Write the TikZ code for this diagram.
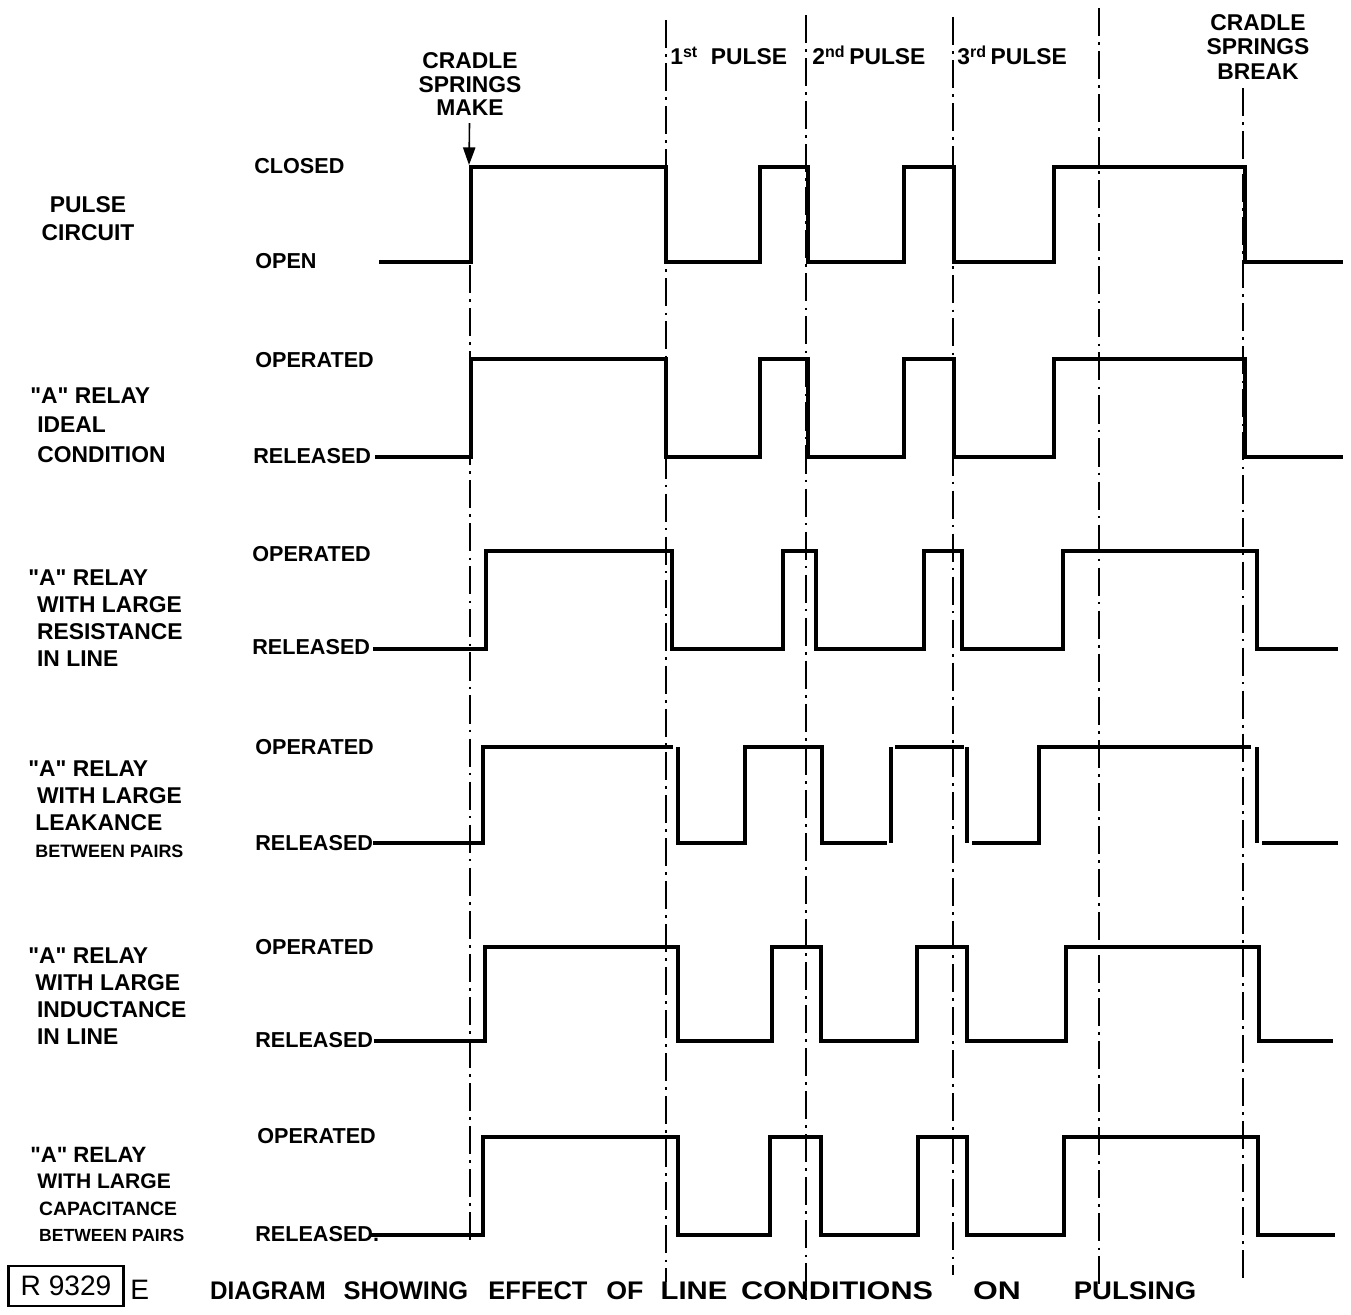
\documentclass[tikz,border=0pt]{standalone}
\usepackage{fontspec}
\setmainfont{Liberation Sans}[Ligatures=TeXOff]
\usetikzlibrary{arrows.meta}

\tikzset{
    % Text styles
    grouplabel/.style={
        anchor=north west,
        align=left,
        inner sep=0pt,
        font=\bfseries\fontsize{13}{15.5}\selectfont
    },
    levellabel/.style={
        anchor=west,
        inner sep=0pt,
        font=\bfseries\fontsize{12.3}{14}\selectfont
    },
    eventlabel/.style={
        anchor=north,
        align=center,
        inner sep=0pt,
        font=\bfseries\fontsize{13}{13.5}\selectfont
    },
    pulselabel/.style={
        anchor=base west,
        inner sep=0pt,
        font=\bfseries\fontsize{13}{15}\selectfont
    },
    captext/.style={
        inner sep=0pt,
        font=\bfseries\fontsize{14.5}{16}\selectfont
    },
    % Line styles
    wave/.style={
        line width=2.4pt,
        line join=miter
    },
    timeline/.style={
        line width=1pt,
        dash pattern=on 16pt off 3.5pt on 1.5pt off 3.5pt
    },
    arrow/.style={
        -{Triangle[length=10pt,width=7pt]},
        line width=0.9pt
    }
}

\begin{document}
\begin{tikzpicture}[x=0.02cm, y=-0.02cm]
    \useasboundingbox (0,0) rectangle (1351,1314);

    % Time marks
    \draw[timeline] (470,265) -- (470,1240);
    \draw[timeline] (666,20) -- (666,1282);
    \draw[timeline] (806,15) -- (806,1300);
    \draw[timeline] (953,17) -- (953,1275);
    \draw[timeline] (1099,8) -- (1099,1290);
    \draw[timeline] (1243,88) -- (1243,1282);

    % Events on top
    \node[eventlabel] (make) at (470,52) {CRADLE\\SPRINGS\\MAKE};
    \node[eventlabel, font=\bfseries\fontsize{13}{14}\selectfont] (brk) at (1258,14) {CRADLE\\SPRINGS\\BREAK};
    \node[pulselabel] (p1) at (670,65) {1\textsuperscript{st}\ \ PULSE};
    \node[pulselabel] (p2) at (812,65) {2\textsuperscript{nd}\,PULSE};
    \node[pulselabel] (p3) at (957,65) {3\textsuperscript{rd}\,PULSE};
    \coordinate (makept) at (469,165);
    \draw[arrow, shorten <=4pt] (make) -- (makept);

    % Pulse circuit
    \node[align=center, inner sep=0pt, font=\bfseries\fontsize{13}{16}\selectfont] (pulse) at (88,219) {PULSE\\CIRCUIT};
    \node[levellabel] (closed) at (254,166) {CLOSED};
    \node[levellabel] (open) at (255,261) {OPEN};
    \draw[wave] (379,262) -| (471,167) -| (666,262) -| (760,167) -| (808,262) -| (904,167)
        -| (954,262) -| (1054,167) -| (1245,262) -- (1343,262);

    % Ideal relay
    \node[grouplabel, font=\bfseries\fontsize{13}{17}\selectfont] (ideal) at (30,387)
        {"A" RELAY\\\hspace*{4pt}IDEAL\\\hspace*{4pt}CONDITION};
    \node[levellabel] (op2) at (255,360) {OPERATED};
    \node[levellabel] (rel2) at (253,456) {RELEASED};
    \draw[wave] (375,457) -| (471,359) -| (666,457) -| (760,359) -| (808,457) -| (904,359)
        -| (954,457) -| (1054,359) -| (1245,457) -- (1343,457);

    % Resistance in line
    \node[grouplabel] (resist) at (28,569)
        {"A" RELAY\\\hspace*{5pt}WITH LARGE\\\hspace*{5pt}RESISTANCE\\\hspace*{5pt}IN LINE};
    \node[levellabel] (op3) at (252,554) {OPERATED};
    \node[levellabel] (rel3) at (252,647) {RELEASED};
    \draw[wave] (373,649) -| (486,551) -| (672,649) -| (783,551) -| (816,649) -| (924,551)
        -| (962,649) -| (1063,551) -| (1257,649) -- (1338,649);

    % Leakance between pairs
    \node[grouplabel] (leak) at (28,760)
        {"A" RELAY\\\hspace*{5pt}WITH LARGE\\\hspace*{4pt}LEAKANCE\\\hspace*{4pt}{\fontsize{10.2}{15.5}\selectfont BETWEEN PAIRS}};
    \node[levellabel] (op4) at (255,747) {OPERATED};
    \node[levellabel] (rel4) at (255,843) {RELEASED};
    \draw[wave] (373,843) -| (483,747) -- (673,747)
        (678,747) |- (745,843) |- (822,747) |- (887,843)
        (891,747) -- (891,843)
        (895,747) -- (964,747)
        (967,747) -- (967,843)
        (972,843) -| (1039,747) -- (1251,747)
        (1257,747) -- (1257,843)
        (1262,843) -- (1338,843);

    % Inductance in line
    \node[grouplabel] (induct) at (28,947)
        {"A" RELAY\\\hspace*{4pt}WITH LARGE\\\hspace*{5pt}INDUCTANCE\\\hspace*{5pt}IN LINE};
    \node[levellabel] (op5) at (255,947) {OPERATED};
    \node[levellabel] (rel5) at (255,1040) {RELEASED};
    \draw[wave] (374,1041) -| (485,947) -| (678,1041) -| (772,947) -| (821,1041) -| (917,947)
        -| (967,1041) -| (1066,947) -| (1259,1041) -- (1333,1041);

    % Capacitance between pairs
    \node[grouplabel, font=\bfseries\fontsize{12.6}{15}\selectfont] (capac) at (30,1147)
        {"A" RELAY\\\hspace*{4pt}{\fontsize{12}{15}\selectfont WITH LARGE}\\\hspace*{5pt}{\fontsize{11}{15}\selectfont CAPACITANCE}\\\hspace*{5pt}{\fontsize{10}{15}\selectfont BETWEEN PAIRS}};
    \node[levellabel] (op6) at (257,1136) {OPERATED};
    \node[levellabel] (rel6) at (255,1234) {RELEASED.};
    \draw[wave] (370,1235) -| (483,1137) -| (678,1235) -| (770,1137) -| (821,1235) -| (918,1137)
        -| (967,1235) -| (1064,1137) -| (1258,1235) -- (1335,1235);

    % Caption
    \node[draw, line width=1.2pt, minimum width=2.3cm, minimum height=0.8cm, inner sep=0pt,
        font=\fontsize{16}{18}\selectfont] (refno) at (66,1286) {R 9329};
    \node[anchor=west, inner sep=0pt, font=\fontsize{16}{18}\selectfont] (ed) at (130,1290) {E};
    \foreach \w/\x/\st [count=\i] in {DIAGRAM/268/0.95, SHOWING/406/1.0, EFFECT/538/1.0,
        OF/625/1.05, LINE/694/1.15, CONDITIONS/837/1.2, ON/997/1.25, PULSING/1135/1.08}
        \node[captext] (cap\i) at (\x,1291) {\addfontfeature{FakeStretch=\st}\w};
\end{tikzpicture}
\end{document}
